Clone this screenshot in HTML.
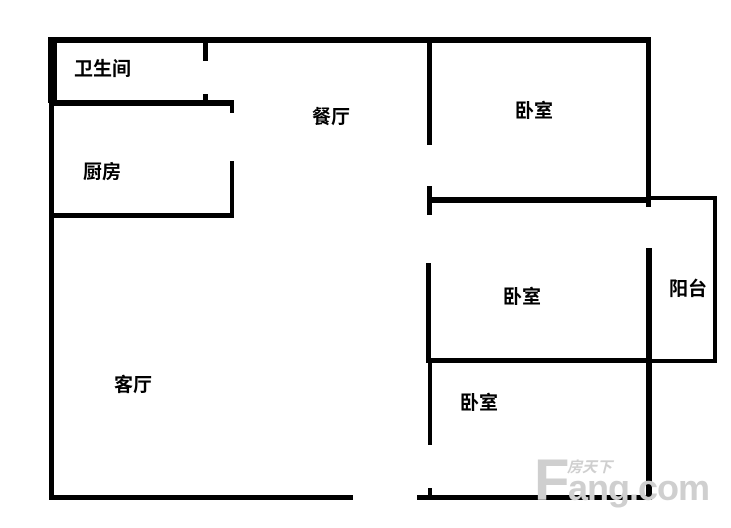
<!DOCTYPE html>
<html><head><meta charset="utf-8"><style>
html,body{margin:0;padding:0;background:#fff;}
body{width:731px;height:528px;position:relative;overflow:hidden;font-family:"Liberation Sans","Noto Sans CJK SC",sans-serif;}
.w{position:absolute;background:#000;}
.t{position:absolute;font-weight:bold;font-size:19px;line-height:20px;color:#000;white-space:nowrap;}
.wm{position:absolute;color:#cfcfcf;font-weight:bold;white-space:nowrap;}
</style></head><body>
<div class="w" style="left:49px;top:37px;width:602px;height:6px"></div>
<div class="w" style="left:48px;top:37px;width:9px;height:66px"></div>
<div class="w" style="left:49px;top:37px;width:5px;height:463px"></div>
<div class="w" style="left:49px;top:100px;width:185px;height:6px"></div>
<div class="w" style="left:203px;top:42px;width:5px;height:19px"></div>
<div class="w" style="left:203px;top:94px;width:5px;height:8px"></div>
<div class="w" style="left:230px;top:100px;width:4px;height:13px"></div>
<div class="w" style="left:230px;top:161px;width:4px;height:57px"></div>
<div class="w" style="left:49px;top:213px;width:185px;height:5px"></div>
<div class="w" style="left:427px;top:42px;width:5px;height:103px"></div>
<div class="w" style="left:427px;top:186px;width:5px;height:29px"></div>
<div class="w" style="left:427px;top:197px;width:224px;height:6px"></div>
<div class="w" style="left:646px;top:37px;width:5px;height:170px"></div>
<div class="w" style="left:646px;top:196px;width:71px;height:4px"></div>
<div class="w" style="left:713px;top:196px;width:4px;height:167px"></div>
<div class="w" style="left:646px;top:359px;width:71px;height:4px"></div>
<div class="w" style="left:646px;top:248px;width:6px;height:252px"></div>
<div class="w" style="left:426px;top:263px;width:5px;height:100px"></div>
<div class="w" style="left:427px;top:358px;width:224px;height:5px"></div>
<div class="w" style="left:428px;top:360px;width:4px;height:85px"></div>
<div class="w" style="left:428px;top:488px;width:4px;height:10px"></div>
<div class="w" style="left:49px;top:495px;width:304px;height:5px"></div>
<div class="w" style="left:417px;top:495px;width:235px;height:5px"></div>
<div class="t" style="left:74px;top:60px">卫生间</div>
<div class="t" style="left:312px;top:108px">餐厅</div>
<div class="t" style="left:83px;top:163px">厨房</div>
<div class="t" style="left:515px;top:102px">卧室</div>
<div class="t" style="left:503px;top:288px">卧室</div>
<div class="t" style="left:460px;top:394px">卧室</div>
<div class="t" style="left:669px;top:280px">阳台</div>
<div class="t" style="left:114px;top:376px">客厅</div>
<div class="wm" style="left:567px;top:456px;font-size:15px;font-style:italic;">房天下</div>
<div class="wm" style="left:534px;top:452px;font-size:58px;line-height:58px;">F</div>
<div class="wm" style="left:568px;top:470px;font-size:36px;line-height:36px;letter-spacing:-1px;">ang.com</div>
</body></html>
